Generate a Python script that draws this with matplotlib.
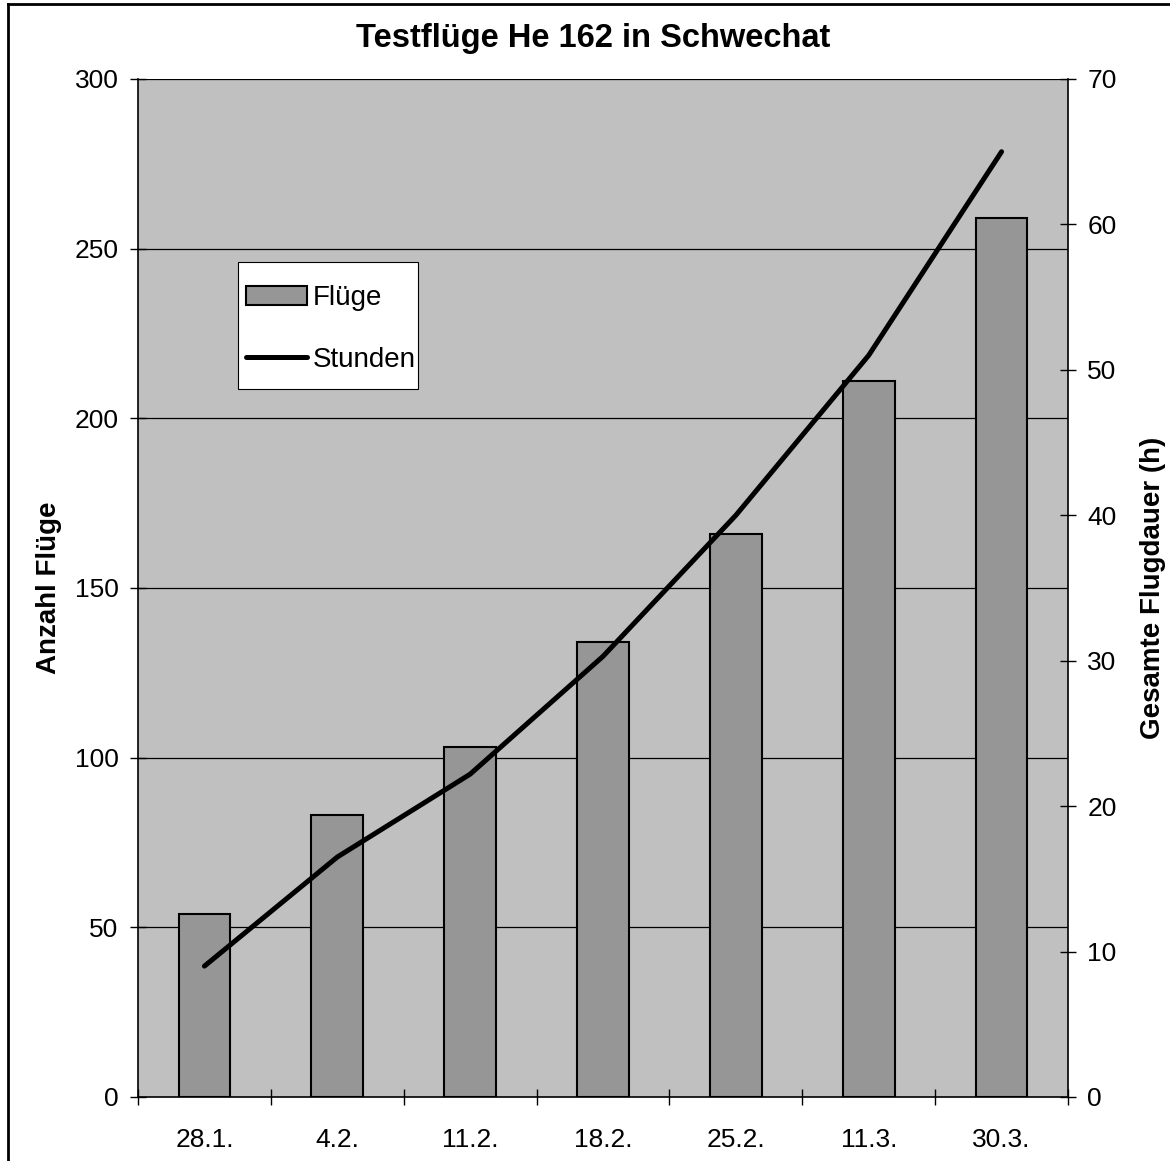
import matplotlib
matplotlib.use("Agg")
import matplotlib.pyplot as plt
from matplotlib.lines import Line2D
from matplotlib.patches import Rectangle
import numpy as np

categories = ["28.1.", "4.2.", "11.2.", "18.2.", "25.2.", "11.3.", "30.3."]
fluege = [54, 83, 103, 134, 166, 211, 259]
stunden = [9.0, 16.5, 22.2, 30.3, 40.0, 51.0, 65.0]
left_ticks = [0, 50, 100, 150, 200, 250, 300]
right_ticks = [0, 10, 20, 30, 40, 50, 60, 70]

plt.rcParams['font.family'] = ['Liberation Sans', 'DejaVu Sans']

W, H = 1170, 1161
fig = plt.figure(figsize=(W / 100, H / 100), dpi=100)
fig.patch.set_facecolor('white')

ax = fig.add_axes([138 / W, 1 - 1097 / H, (1068 - 138) / W, (1097 - 79) / H])
ax.set_facecolor('#C0C0C0')
x = np.arange(len(categories))
bars = ax.bar(x, fluege, width=0.39, color='#969696', edgecolor='black',
              linewidth=1.5, zorder=3, label='Flüge')
ax.set_xlim(-0.5, len(categories) - 0.5)
ax.set_ylim(0, 300)
ax.set_yticks(left_ticks)
ax.set_xticks(np.arange(len(categories) + 1) - 0.5)
ax.set_xticklabels([])
ax.set_xticks(x, minor=True)
ax.set_xticklabels(categories, minor=True, fontsize=19)
ax.tick_params(axis='x', which='minor', length=0, pad=22)
ax.tick_params(axis='x', which='major', direction='inout', length=12, width=1)
ax.tick_params(axis='y', direction='inout', length=12, width=1, labelsize=19, pad=8)
for yv in left_ticks[1:]:
    ax.axhline(yv, color='black', linewidth=0.9, zorder=1)
ax.spines['top'].set_visible(False)
ax.spines['right'].set_visible(False)
ax.spines['left'].set_linewidth(1.2)
ax.spines['bottom'].set_linewidth(1.2)
ax.set_ylabel('Anzahl Flüge', fontsize=20, fontweight='bold', labelpad=9)

ax2 = ax.twinx()
ax2.set_ylim(0, 70)
ax2.set_yticks(right_ticks)
line, = ax2.plot(x, stunden, color='black', linewidth=3.6, solid_capstyle='round',
                 zorder=4, label='Stunden')
ax2.tick_params(axis='y', direction='inout', length=12, width=1, labelsize=19, pad=8)
for s in ['top', 'left', 'bottom']:
    ax2.spines[s].set_visible(False)
ax2.spines['right'].set_linewidth(1.2)
ax2.set_ylabel('Gesamte Flugdauer (h)', fontsize=20, fontweight='bold', labelpad=17)

fig.suptitle('Testflüge He 162 in Schwechat', fontsize=23.5, fontweight='bold',
             y=1 - 39 / H, va='center', x=(352 + 835) / 2 / W)

# legend frame
fig.add_artist(Rectangle((238 / W, 1 - 389 / H), (418 - 238) / W, (389 - 262) / H,
                         transform=fig.transFigure, facecolor='white',
                         edgecolor='black', linewidth=0.8, zorder=5))
leg = fig.legend([bars, line], ['Flüge', 'Stunden'], loc='upper left',
                 bbox_to_anchor=(246 / W, 1 - 285 / H), fontsize=20,
                 frameon=False, handlelength=2.2, handletextpad=0.2,
                 labelspacing=1.3, borderpad=0, borderaxespad=0)
leg.set_zorder(6)

fig.add_artist(Line2D([8 / W, 8 / W], [0, 1 - 4 / H], transform=fig.transFigure,
                      color='black', linewidth=2))
fig.add_artist(Line2D([8 / W, 1], [1 - 4 / H, 1 - 4 / H], transform=fig.transFigure,
                      color='black', linewidth=2))

fig.savefig('out.png', dpi=100)
